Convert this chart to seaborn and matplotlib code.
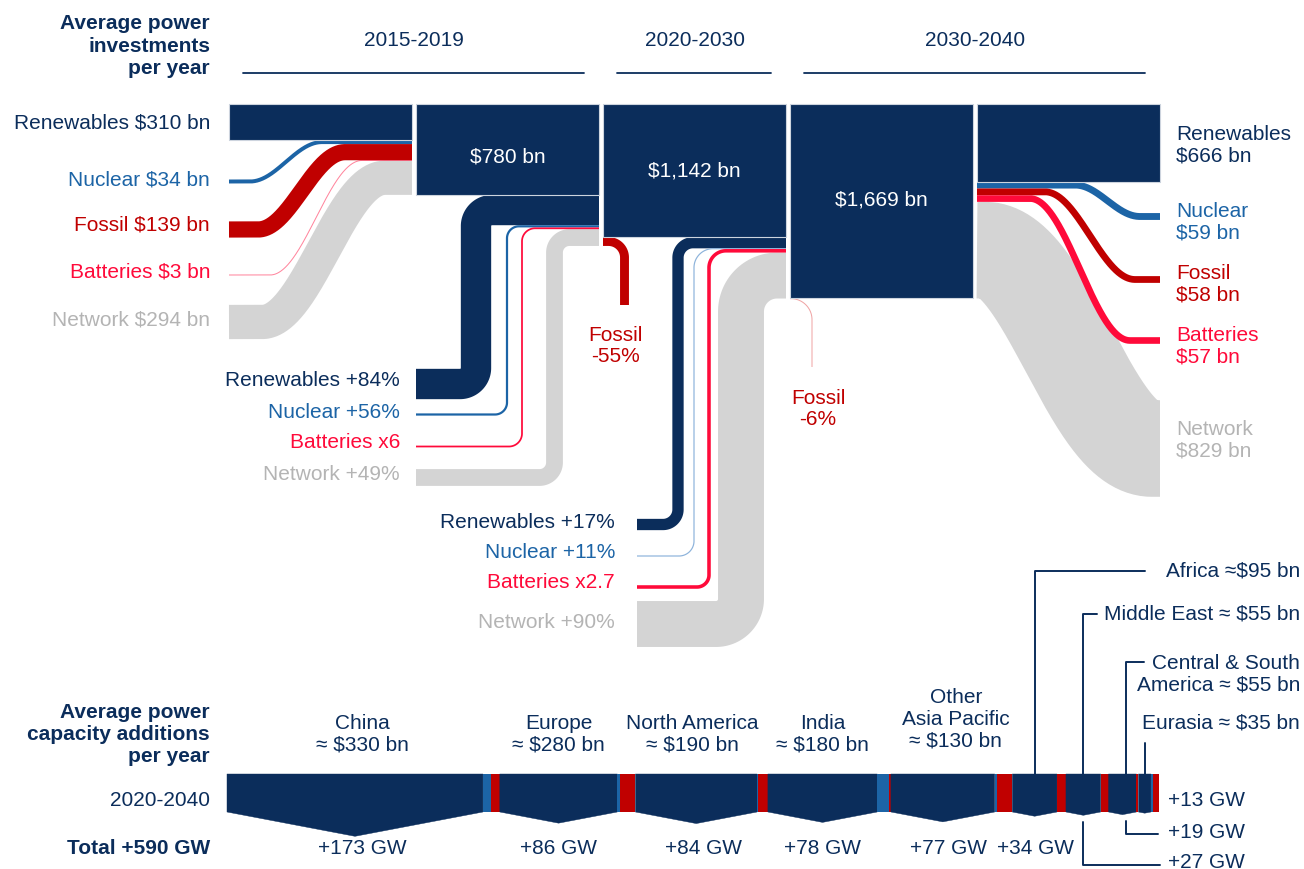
import numpy as np
import matplotlib
matplotlib.use("Agg")
import matplotlib.pyplot as plt
import seaborn as sns

# ---------------- data ----------------
techs = ["Renewables", "Nuclear", "Fossil", "Batteries", "Network"]
invest_2015_2019 = [310, 34, 139, 3, 294]            # $ bn / year
invest_2030_2040 = [666, 59, 58, 57, 829]            # $ bn / year
periods = ["2015-2019", "2020-2030", "2030-2040"]
period_totals = [780, 1142, 1669]                    # $ bn / year
growth_2020_2030 = [1.84, 1.56, 0.45, 6.0, 1.49]
growth_labels_2020_2030 = ["+84%", "+56%", "-55%", "x6", "+49%"]
growth_2030_2040 = [1.17, 1.11, 0.94, 2.7, 1.90]
growth_labels_2030_2040 = ["+17%", "+11%", "-6%", "x2.7", "+90%"]

regions = ["China", "Europe", "North America", "India", "Other\nAsia Pacific",
           "Africa", "Middle East", "Central & South\nAmerica", "Eurasia"]
region_bn = [330, 280, 190, 180, 130, 95, 55, 55, 35]
region_gw = [173, 86, 84, 78, 77, 34, 27, 19, 13]
region_nuclear_gw = [5.0, 2.0, 0.6, 7.5, 1.2, 0.0, 0.0, 0.0, 1.3]
region_fossil_gw = [5.7, 9.5, 6.3, 1.2, 10.0, 5.7, 5.0, 1.3, 3.8]
total_gw_label = "Total +590 GW"

# derived values
invest_2020_2030 = [v * g for v, g in zip(invest_2015_2019, growth_2020_2030)]
inc1 = [v * (g - 1) for v, g in zip(invest_2015_2019, growth_2020_2030)]
inc2 = [v * (g - 1) for v, g in zip(invest_2020_2030, growth_2030_2040)]

# ---------------- style ----------------
sns.set_theme(style="white")
plt.rcParams["font.family"] = ["Liberation Sans", "DejaVu Sans"]
try:
    plt.rcParams["text.parse_math"] = False
except KeyError:
    pass

NAVY = "#0b2d5b"
BLUE = "#1c64a6"
RED = "#c00000"
BRED = "#ff0a3a"
GRAY = "#d4d4d4"
GRAYTXT = "#b4b4b4"
EDGE = "#cdd4de"
COL = {"Renewables": NAVY, "Nuclear": BLUE, "Fossil": RED, "Batteries": BRED, "Network": GRAY}
TXT = {"Renewables": NAVY, "Nuclear": BLUE, "Fossil": RED, "Batteries": BRED, "Network": GRAYTXT}
FS = 15
LS = 1.16

fig = plt.figure(figsize=(13.04, 8.69), dpi=100)
ax = fig.add_axes([0, 0, 1, 1])
ax.set_xlim(0, 1304)
ax.set_ylim(869, 0)
ax.set_axis_off()

PT = 72 / 100  # points per pixel
S = 0.1165     # px per $ bn
TOP = 104
COLW = 183
col_x = [229 + 187 * i for i in range(5)]


def ybot(v):
    return TOP + v * S


def stroke(xs, ys, th, color, z=2):
    alpha = 1.0 if th >= 1 else 0.5
    ax.plot(xs, ys, color=color, lw=max(th, 1.0) * PT, alpha=alpha,
            solid_capstyle="butt", solid_joinstyle="round", zorder=z)


def arc(cx, cy, r, a0, a1, n=40):
    t = np.radians(np.linspace(a0, a1, n))
    return cx + r * np.cos(t), cy + r * np.sin(t)


def s_path(x0, y0, x1, y1, xa, xb, n=500):
    xs = np.linspace(x0, x1, n)
    t = np.clip((xs - xa) / (xb - xa), 0, 1)
    return xs, y0 + (y1 - y0) * (1 - np.cos(np.pi * t)) / 2


def l_path(x0, yb, xv, yt, x1, r1, r2):
    ax1, ay1 = arc(xv - r1, yb - r1, r1, 90, 0)
    ax2, ay2 = arc(xv + r2, yt + r2, r2, 180, 270)
    return np.r_[x0, ax1, ax2, x1], np.r_[yb, ay1, ay2, yt]


def drop_path(x0, y0, xv, y1, r):
    a1, b1 = arc(xv - r, y0 + r, r, -90, 0)
    return np.r_[x0, a1, xv, xv], np.r_[y0, b1, y0 + r, y1]


# ---------------- headers ----------------
ax.text(210, 46, "Average power\ninvestments\nper year", ha="right", va="center",
        fontsize=FS, fontweight="bold", color=NAVY, linespacing=1.22)
spans = [(col_x[0], col_x[1] + COLW), (col_x[2], col_x[2] + COLW), (col_x[3], col_x[4] + COLW)]
for lab, (a, b) in zip(periods, spans):
    ax.text((a + b) / 2, 40, lab, ha="center", va="center", fontsize=FS, color=NAVY)
    ax.plot([a + 14, b - 15], [73, 73], color=NAVY, lw=1.3)

# ---------------- left section: 2015-2019 ----------------
left_y = {"Nuclear": 181.5, "Fossil": 229.5, "Batteries": 275.0, "Network": 322.0}
left_tr = {"Nuclear": (250, 322), "Fossil": (258, 345), "Batteries": (270, 362), "Network": (262, 385)}
y = ybot(invest_2015_2019[0])
for t, v in zip(techs[1:], invest_2015_2019[1:]):
    th = v * S
    xs, ys = s_path(col_x[0], left_y[t], col_x[0] + COLW, y + th / 2, *left_tr[t])
    stroke(xs, ys, th, COL[t], z=1 if t == "Network" else 2)
    y += th

left_label_y = [123, 180, 225, 272, 320]
for t, v, ly in zip(techs, invest_2015_2019, left_label_y):
    ax.text(210, ly, f"{t} ${v} bn", ha="right", va="center", fontsize=FS, color=TXT[t])

# ---------------- increments 2015-2019 -> 2020-2030 ----------------
order = ["Renewables", "Nuclear", "Batteries", "Network"]
stub1 = {"Renewables": 384, "Nuclear": 414.5, "Batteries": 446.5, "Network": 477.5}
vx1 = {"Renewables": 476, "Nuclear": 507, "Batteries": 522, "Network": 554.5}
rad1 = {"Renewables": (16, 16), "Nuclear": (12, 12), "Batteries": (13, 13), "Network": (15, 15)}
lab1_y = {"Renewables": 381, "Nuclear": 412, "Batteries": 443, "Network": 475}
y = ybot(period_totals[0])
for t in order:
    i = techs.index(t)
    th = inc1[i] * S
    xs, ys = l_path(col_x[1], stub1[t], vx1[t], y + th / 2, col_x[1] + COLW, *rad1[t])
    stroke(xs, ys, th, COL[t], z=1 if t == "Network" else 2)
    y += th
    ax.text(400, lab1_y[t], f"{t} {growth_labels_2020_2030[i]}", ha="right", va="center",
            fontsize=FS, color=TXT[t])

th = -inc1[2] * S
xs, ys = drop_path(col_x[2], ybot(period_totals[1]) + th / 2, 624.5, 305, 16)
stroke(xs, ys, th, RED, z=2)
ax.text(615, 346, f"Fossil\n{growth_labels_2020_2030[2]}", ha="center", va="center",
        fontsize=FS, color=RED, linespacing=LS)

# ---------------- increments 2020-2030 -> 2030-2040 ----------------
stub2 = {"Renewables": 524.5, "Nuclear": 556, "Batteries": 587, "Network": 624}
vx2 = {"Renewables": 678, "Nuclear": 694, "Batteries": 709, "Network": 741}
rad2 = {"Renewables": (15, 15), "Nuclear": (15, 19), "Batteries": (12, 17), "Network": (25, 36)}
lab2_y = {"Renewables": 522, "Nuclear": 552, "Batteries": 583, "Network": 623}
col2 = {"Renewables": NAVY, "Nuclear": "#8db3db", "Batteries": BRED, "Network": GRAY}
y = ybot(period_totals[1])
for t in order:
    i = techs.index(t)
    th = inc2[i] * S
    xs, ys = l_path(637, stub2[t], vx2[t], y + th / 2, col_x[3] - 4, *rad2[t])
    stroke(xs, ys, max(th, 1.2), col2[t], z=1 if t == "Network" else 2)
    y += th
    ax.text(615, lab2_y[t], f"{t} {growth_labels_2030_2040[i]}", ha="right", va="center",
            fontsize=FS, color=TXT[t])

th = -inc2[2] * S
xs, ys = drop_path(col_x[3], ybot(period_totals[2]) + th / 2, 812, 367, 21)
stroke(xs, ys, th, "#e04848", z=2)
ax.text(818, 409, f"Fossil\n{growth_labels_2030_2040[2]}", ha="center", va="center",
        fontsize=FS, color=RED, linespacing=LS)

# ---------------- right section: 2030-2040 ----------------
right_y = {"Nuclear": 216.5, "Fossil": 279.5, "Batteries": 340.5, "Network": 448.5}
right_tr = {"Nuclear": (1075, 1140), "Fossil": (1045, 1135), "Batteries": (1030, 1130), "Network": (985, 1152)}
y = ybot(invest_2030_2040[0])
for t, v in zip(techs[1:], invest_2030_2040[1:]):
    th = v * S
    xs, ys = s_path(col_x[4], y + th / 2, col_x[4] + COLW, right_y[t], *right_tr[t])
    stroke(xs, ys, th, COL[t], z=1 if t == "Network" else 2)
    y += th

right_label_y = [145, 222, 284.5, 346.5, 440]
for t, v, ly in zip(techs, invest_2030_2040, right_label_y):
    ax.text(1176, ly, f"{t}\n${v} bn", ha="left", va="center", fontsize=FS, color=TXT[t],
            linespacing=LS)

# ---------------- blocks ----------------
block_vals = [invest_2015_2019[0]] + period_totals + [invest_2030_2040[0]]
ax.bar(col_x, [v * S for v in block_vals], width=COLW, bottom=TOP, align="edge",
       color=NAVY, edgecolor=EDGE, linewidth=0.8, zorder=3)
total_text_y = [157, 171, 200]
for i, (v, ty) in enumerate(zip(period_totals, total_text_y)):
    ax.text(col_x[i + 1] + COLW / 2, ty, f"${v:,} bn", ha="center", va="center",
            fontsize=FS, color="white", zorder=4)

# ---------------- bottom strip: capacity additions ----------------
ax.text(210, 734, "Average power\ncapacity additions\nper year", ha="right", va="center",
        fontsize=FS, fontweight="bold", color=NAVY)
ax.text(210, 800, "2020-2040", ha="right", va="center", fontsize=FS, color=NAVY)
ax.text(210, 849, total_gw_label, ha="right", va="center", fontsize=FS, fontweight="bold", color=NAVY)

STRIP_T, STRIP_B = 774, 812
GWS = (1159 - 227) / sum(region_gw)
x = 227.0
centers = []
for gw, nuc, fos in zip(region_gw, region_nuclear_gw, region_fossil_gw):
    w = (gw - nuc - fos) * GWS
    xc = x + w / 2
    centers.append(xc)
    ax.fill([x, x + w, x + w, xc, x], [STRIP_T, STRIP_T, STRIP_B, STRIP_B + 0.095 * w, STRIP_B],
            color=NAVY, lw=0.3, ec=NAVY, zorder=3)
    ax.bar([x + w, x + w + nuc * GWS], [STRIP_B - STRIP_T] * 2, width=[nuc * GWS, fos * GWS],
           bottom=STRIP_T, align="edge", color=[BLUE, RED], lw=0, zorder=3)
    x += gw * GWS

big_dx = [7, 0, -4, 0, 13]
gw_dx = [7, 0, 7, 0, 6, 1]
for i in range(5):
    nlines = regions[i].count("\n") + 2
    cy = 734.5 if nlines == 2 else 719.5
    ax.text(centers[i] + big_dx[i], cy, f"{regions[i]}\n≈ ${region_bn[i]} bn", ha="center",
            va="center", fontsize=FS, color=NAVY)
for i in range(6):
    ax.text(centers[i] + gw_dx[i], 849, f"+{region_gw[i]} GW", ha="center", va="center",
            fontsize=FS, color=NAVY)

# small regions with leader lines
lc = dict(color=NAVY, lw=1.4, zorder=2)
ax.plot([centers[5], centers[5], 1145], [STRIP_T, 571, 571], **lc)
ax.text(1300, 571, f"{regions[5]} ≈${region_bn[5]} bn", ha="right", va="center", fontsize=FS, color=NAVY)
ax.plot([centers[6], centers[6], 1097], [STRIP_T, 614, 614], **lc)
ax.text(1300, 614, f"{regions[6]} ≈ ${region_bn[6]} bn", ha="right", va="center", fontsize=FS, color=NAVY)
ax.plot([centers[7] + 4, centers[7] + 4, 1144], [STRIP_T, 662, 662], **lc)
ax.text(1300, 674, f"{regions[7]} ≈ ${region_bn[7]} bn", ha="right", va="center", fontsize=FS,
        color=NAVY, linespacing=1.15)
ax.plot([centers[8], centers[8]], [STRIP_T, 743], **lc)
ax.text(1300, 723, f"{regions[8]} ≈ ${region_bn[8]} bn", ha="right", va="center", fontsize=FS, color=NAVY)

ax.text(1168, 801, f"+{region_gw[8]} GW", ha="left", va="center", fontsize=FS, color=NAVY)
ax.plot([centers[7] + 4, centers[7] + 4, 1158], [821, 834, 834], **lc)
ax.text(1168, 832, f"+{region_gw[7]} GW", ha="left", va="center", fontsize=FS, color=NAVY)
ax.plot([centers[6], centers[6], 1160], [822, 865, 865], **lc)
ax.text(1168, 862, f"+{region_gw[6]} GW", ha="left", va="center", fontsize=FS, color=NAVY)

fig.savefig("out.png", dpi=100)
